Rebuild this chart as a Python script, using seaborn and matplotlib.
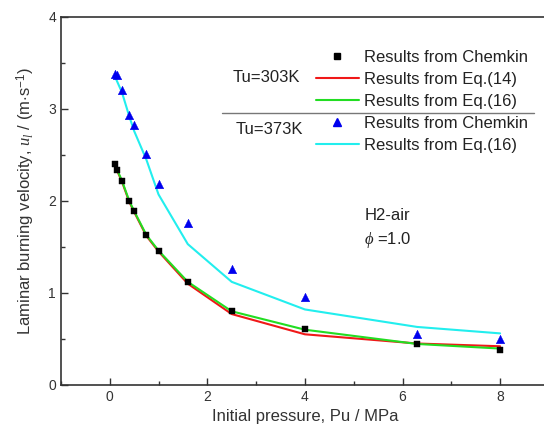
import matplotlib
matplotlib.use("Agg")
import matplotlib.pyplot as plt
import seaborn as sns
import pandas as pd
from matplotlib.lines import Line2D
from matplotlib.ticker import MultipleLocator

# pressure points (MPa)
pressure = [0.1, 0.15, 0.25, 0.4, 0.5, 0.75, 1.0, 1.6, 2.5, 4.0, 6.3, 8.0]

# Tu = 303K
chemkin_303 = [2.40, 2.34, 2.22, 2.00, 1.89, 1.63, 1.46, 1.12, 0.80, 0.61, 0.45, 0.38]
eq14_303 = [2.40, 2.33, 2.21, 1.99, 1.88, 1.62, 1.45, 1.10, 0.77, 0.55, 0.45, 0.42]
eq16_303 = [2.40, 2.34, 2.22, 2.00, 1.89, 1.63, 1.46, 1.12, 0.80, 0.60, 0.445, 0.395]

# Tu = 373K
chemkin_373 = [3.38, 3.37, 3.21, 2.93, 2.82, 2.51, 2.18, 1.76, 1.26, 0.96, 0.55, 0.50]
eq16_373 = [3.36, 3.30, 3.18, 2.92, 2.76, 2.45, 2.07, 1.53, 1.12, 0.82, 0.63, 0.56]

df = pd.DataFrame({"P": pressure, "c303": chemkin_303, "e14": eq14_303,
                   "e16": eq16_303, "c373": chemkin_373, "e16b": eq16_373})

sns.set_style("ticks")
plt.rcParams["font.family"] = ["Liberation Sans", "DejaVu Sans"]
plt.rcParams["mathtext.fontset"] = "custom"
plt.rcParams["mathtext.it"] = "Liberation Serif:italic"
plt.rcParams["mathtext.rm"] = "Liberation Sans"

fig = plt.figure(figsize=(5.44, 4.32), dpi=100)
ax = fig.add_axes([0.112, 0.109, 0.897, 0.852])

red = "#f01818"
green = "#22dd22"
cyan = "#22eeee"
blue = "#0000ee"

sns.lineplot(data=df, x="P", y="e14", color=red, lw=1.5, ax=ax)
sns.lineplot(data=df, x="P", y="e16", color=green, lw=1.5, ax=ax)
sns.lineplot(data=df, x="P", y="e16b", color=cyan, lw=1.5, ax=ax)
sns.scatterplot(data=df, x="P", y="c303", marker="s", color="black", s=22,
                edgecolor="black", linewidth=0.3, ax=ax, zorder=5)
sns.scatterplot(data=df, x="P", y="c373", marker="^", color=blue, s=38,
                edgecolor=blue, linewidth=0.3, ax=ax, zorder=5)

ax.set_xlim(-1, 9)
ax.set_ylim(0, 4)
ax.xaxis.set_major_locator(MultipleLocator(2))
ax.xaxis.set_minor_locator(MultipleLocator(1))
ax.yaxis.set_major_locator(MultipleLocator(1))
ax.yaxis.set_minor_locator(MultipleLocator(0.5))
ax.tick_params(which="both", direction="in", top=False, right=False,
               labelsize=10, color="#333333", labelcolor="#333333")
ax.tick_params(which="major", length=5, width=1)
ax.tick_params(which="minor", length=3, width=1)
for s in ax.spines.values():
    s.set_color("#333333")
    s.set_linewidth(1.2)

ax.set_xlabel("Initial pressure, Pu / MPa", fontsize=12, color="#333333")
ax.set_ylabel(r"Laminar burning velocity, $u_l$ / (m$\cdot$s$^{-1}$)",
              fontsize=12, color="#333333", labelpad=8)

handles = [
    Line2D([], [], marker="s", color="black", ls="none", markersize=4.5),
    Line2D([], [], color=red, lw=1.5),
    Line2D([], [], color=green, lw=1.5),
    Line2D([], [], marker="^", color=blue, ls="none", markersize=6),
    Line2D([], [], color=cyan, lw=1.5),
]
labels = ["Results from Chemkin", "Results from Eq.(14)", "Results from Eq.(16)",
          "Results from Chemkin", "Results from Eq.(16)"]
ax.legend(handles, labels, loc="upper left", bbox_to_anchor=(0.522, 0.91),
          frameon=False, fontsize=12, handlelength=2.6, handletextpad=0.3,
          labelspacing=0.42, borderpad=0, borderaxespad=0, labelcolor="#222222")

ax.text(0.352, 0.835, "Tu=303K", transform=ax.transAxes, fontsize=12,
        color="#222222", va="center")
ax.text(0.357, 0.695, "Tu=373K", transform=ax.transAxes, fontsize=12,
        color="#222222", va="center")
ax.plot([0.33, 0.97], [0.738, 0.738], transform=ax.transAxes, color="#777777", lw=1)

ax.text(0.622, 0.46, "H2-air", transform=ax.transAxes, fontsize=12,
        color="#222222", va="center")
ax.text(0.622, 0.393, r"$\phi$ =1.0", transform=ax.transAxes, fontsize=12,
        color="#222222", va="center")

fig.savefig("out.png", dpi=100)
